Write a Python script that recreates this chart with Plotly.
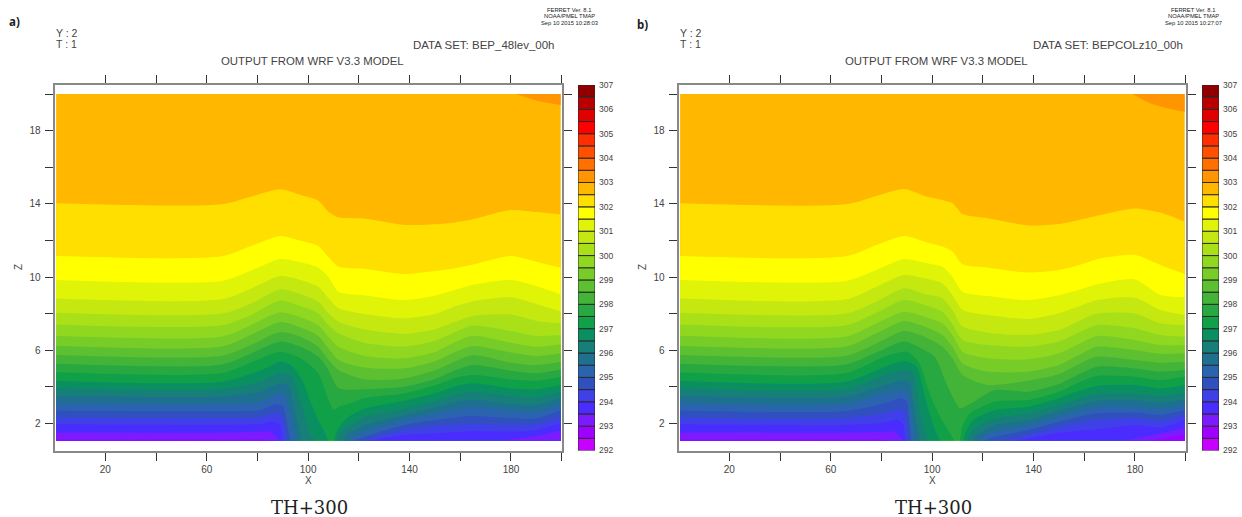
import plotly.graph_objects as go

W, H = 1242, 517
LEVELS = [292.0,292.5,293.0,293.5,294.0,294.5,295.0,295.5,296.0,296.5,297.0,297.5,298.0,298.5,299.0,
          299.5,300.0,300.5,301.0,301.5,302.0,302.5,303.0,303.5,304.0,304.5,305.0,305.5,306.0,306.5]
COLORS = ["#c800ff","#a000ff","#7a1cff","#4a2cff","#4040e8","#3050c0","#2a64ae","#1e7090","#168078","#0a9060",
          "#10a048","#28a840","#44b438","#5cc030","#78cc28","#90d820","#aae018","#c4e810","#e0f408","#ffff00",
          "#ffdf00","#ffb700","#ff9500","#ff7000","#ff5000","#ff3000","#ff0000","#e00000","#b80000","#900000"]
CBAR_LABELS = [292,293,294,295,296,297,298,299,300,301,302,303,304,305,306,307]
X_TICKS = [20,40,60,80,100,120,140,160,180,200]
X_TEXT = ["20","","60","","100","","140","","180",""]
Z_TICKS = [2,4,6,8,10,12,14,16,18,20]
Z_TEXT = ["2","","6","","10","","14","","18",""]
X_EDGES = [0.6,199.6]
Z_EDGES = [1.07,20.0]

X_UP = [0.6,66,78,89,97,104,108,112,122,138,150,158,165,180,190,199.6]

# ---- panel a: BEP_48lev_00h, isotherm heights (z) ----
A_X_303 = [182,190,199.6]
A_Z_303 = [20.0,19.65,19.4]
A_3025 = [14.03,13.97,14.41,14.79,14.48,14.17,13.57,13.26,13.19,12.84,12.88,12.98,13.15,13.66,13.55,13.42]
A_302 = [11.15,11.13,11.72,12.24,11.98,11.69,11.08,10.56,10.45,10.16,10.33,10.48,10.68,11.15,10.84,10.51]
A_3015 = [9.84,9.78,10.38,10.98,10.80,10.51,10.02,9.2,9.0,8.74,8.98,9.3,9.58,9.84,9.51,9.05]
A_301 = [8.83,8.78,9.40,10.05,9.84,9.47,8.84,8.29,7.98,7.74,7.98,8.4,8.68,8.89,8.52,8.11]
A_3005 = [8.05,8.0,8.58,9.33,9.07,8.65,8.01,7.56,7.14,6.89,7.15,7.55,7.87,7.95,7.6,7.47]
A_300 = [7.41,7.36,7.97,8.71,8.41,8.01,7.38,6.92,6.41,6.2,6.52,7.0,7.35,7.05,6.78,6.83]
A_2995 = [6.79,6.75,7.41,8.07,7.80,7.38,6.74,6.19,5.7,5.56,5.9,6.45,6.79,6.41,6.19,6.32]
A_299 = [6.25,6.2,6.87,7.54,7.25,6.78,6.10,5.46,5.05,5.01,5.4,5.9,6.23,5.87,5.68,5.83]
A_2985 = [5.74,5.7,6.32,6.99,6.74,6.19,5.46,4.92,4.41,4.46,4.9,5.4,5.74,5.32,5.19,5.37]
A_298 = [5.26,5.22,5.85,6.47,6.19,5.65,4.92,3.92,3.86,4.0,4.42,4.9,5.19,4.88,4.74,4.95]
A_X_2975 = [0.6,66,78,89,97,104,108,110,112,116,122,138,150,158,165,180,190,199.6]
A_Z_2975 = [4.79,4.75,5.36,5.92,5.56,4.74,3.3,2.75,2.9,3.06,3.37,3.63,4.08,4.48,4.64,4.41,4.33,4.55]

A_XL_297 = [0.6,66,81,89.5,94,98,100.7,103.4,106,108]
A_ZL_297 = [4.32,4.28,4.88,5.37,5.10,4.28,3.28,2.37,1.64,1.07]
A_XR_297 = [110.2,111.5,115,122,138,150,158,165,180,190,199.6]
A_ZR_297 = [1.07,1.64,2.27,2.8,3.24,3.65,4.02,4.19,3.92,3.86,4.1]
A_XL_2965 = [0.6,66,81,89.5,93.5,96.2,98.8,100.7,102.7]
A_ZL_2965 = [3.92,3.88,4.28,4.77,4.55,3.64,2.37,1.46,1.07]
A_XR_2965 = [111.5,113.2,116.5,122,138,150,158,165,180,190,199.6]
A_ZR_2965 = [1.07,1.64,1.91,2.35,2.82,3.22,3.58,3.73,3.5,3.42,3.73]
A_XL_296 = [0.6,66,81,89.5,92.1,94.1,96.2,97.5]
A_ZL_296 = [3.51,3.47,3.73,4.19,4.1,3.1,1.82,1.07]
A_XR_296 = [113.7,115.4,118.4,122,138,150,158,165,180,190,199.6]
A_ZR_296 = [1.07,1.46,1.64,1.9,2.46,2.87,3.15,3.31,3.06,3.0,3.37]
A_XL_2955 = [0.6,66,81,88.9,90.8,92.8,94.1,95.2]
A_ZL_2955 = [3.11,3.07,3.19,3.64,3.55,2.55,1.64,1.07]
A_XR_2955 = [115.8,118.4,124.4,138,150,158,165,180,190,199.6]
A_ZR_2955 = [1.07,1.31,1.64,2.19,2.52,2.75,2.88,2.7,2.64,3.0]
A_XL_295 = [0.6,66,81,87.5,90.1,91.4,92.5,93]
A_ZL_295 = [2.71,2.68,2.73,3.06,2.95,2.19,1.46,1.07]
A_XR_295 = [118.4,124.4,138,150,158,165,180,190,199.6]
A_ZR_295 = [1.07,1.36,1.91,2.18,2.32,2.40,2.28,2.28,2.7]
A_XL_2945 = [0.6,66,81,87.5,89.5,90.8,91.4]
A_ZL_2945 = [2.31,2.29,2.33,2.55,2.4,1.82,1.07]
A_XR_2945 = [121.8,124.4,138,150,158,165,180,190,199.6]
A_ZR_2945 = [1.07,1.18,1.64,1.86,1.92,1.97,1.91,1.97,2.37]
A_XL_294 = [0.6,66,81,86.2,88.9,90]
A_ZL_294 = [1.95,1.93,1.97,2.09,1.91,1.07]
A_XR_294 = [124.4,138,150,158,165,180,190,199.6]
A_ZR_294 = [1.07,1.37,1.46,1.52,1.58,1.55,1.64,2.0]
A_XL_2935 = [0.6,66,81,84.9,87.5,88.2]
A_ZL_2935 = [1.51,1.5,1.55,1.55,1.27,1.07]
A_XR_2935 = [177,190,199.6]
A_ZR_2935 = [1.07,1.31,1.6]
A_XL_293 = [0.6,80,85]
A_ZL_293 = [1.12,1.12,1.07]

# ---- panel b: BEPCOLz10_00h ----
B_X_303 = [179,185,192,199.6]
B_Z_303 = [20.0,19.55,19.25,19.03]
B_3025 = [14.03,13.97,14.43,14.81,14.43,14.21,14.03,13.44,13.21,12.82,12.90,13.12,13.35,13.75,13.52,13.02]
B_302 = [11.15,11.13,11.75,12.24,11.93,11.66,11.39,10.69,10.51,10.24,10.38,10.65,10.97,11.2,10.66,10.16]
B_3015 = [9.84,9.78,10.38,10.98,10.78,10.56,10.02,9.2,8.96,8.74,9.0,9.3,9.6,9.87,9.02,8.89]
B_301 = [8.83,8.78,9.47,10.11,9.93,9.65,9.0,8.2,7.92,7.71,8.02,8.4,8.74,8.87,8.2,7.92]
B_3005 = [8.05,8.0,8.65,9.38,9.07,8.84,8.2,7.29,6.96,6.83,7.1,7.6,8.0,8.01,7.47,7.38]
B_300 = [7.41,7.36,8.05,8.74,8.47,8.1,7.43,6.56,6.28,6.19,6.47,6.98,7.38,7.2,6.83,6.74]
B_2995 = [6.79,6.75,7.47,8.1,7.83,7.47,6.83,5.92,5.56,5.5,5.83,6.35,6.78,6.56,6.28,6.28]
B_299 = [6.25,6.2,6.92,7.6,7.29,6.83,6.19,5.28,4.83,4.83,5.19,5.75,6.19,6.01,5.8,5.83]
B_2985 = [5.74,5.7,6.37,7.05,6.74,6.2,5.56,4.65,4.1,4.34,4.7,5.25,5.65,5.46,5.32,5.37]
B_X_298 = [0.6,66,78,89,97,101,105,108.4,111,114.3,124.8,138,150,158,165,180,190,199.6]
B_Z_298 = [5.26,5.22,5.87,6.47,6.0,5.65,4.37,3.37,2.82,3.0,3.82,3.73,4.15,4.7,5.1,5.0,4.83,4.92]

B_XL_2975 = [0.6,66,81.4,90,94.6,96.5,99.2,103.8,108.8]
B_ZL_2975 = [4.79,4.75,5.65,5.92,5.37,4.74,3.55,2.19,1.07]
B_XR_2975 = [111,111.9,115,124.8,138,150,158,165,180,190,199.6]
B_ZR_2975 = [1.07,1.82,2.55,3.19,3.28,3.73,4.25,4.59,4.55,4.37,4.55]
B_XL_297 = [0.6,66,81.4,89.3,93.9,95.9,97.8,101.1,103.1]
B_ZL_297 = [4.32,4.28,5.1,5.41,5.1,4.19,3.1,1.64,1.07]
B_XR_297 = [112.3,113.6,116.3,124.8,138,150,158,165,180,190,199.6]
B_ZR_297 = [1.07,1.64,2.19,2.73,2.91,3.37,3.78,4.05,4.1,3.92,4.1]
B_XL_2965 = [0.6,66,81.4,89.3,92.6,93.9,95.2,97.2,98.2]
B_ZL_2965 = [3.92,3.88,4.65,4.92,4.74,3.82,2.73,1.46,1.07]
B_XR_2965 = [114,115.6,118.9,124.8,138,150,158,165,180,190,199.6]
B_ZR_2965 = [1.07,1.55,1.91,2.28,2.55,3.0,3.35,3.6,3.64,3.5,3.68]
B_XL_296 = [0.6,66,81.4,89.3,91.3,92.6,93.9,95.2]
B_ZL_296 = [3.51,3.47,4.1,4.37,4.19,3.1,2.0,1.07]
B_XR_296 = [115.9,117.6,120.9,124.8,138,150,158,165,180,190,199.6]
B_ZR_296 = [1.07,1.37,1.64,1.91,2.19,2.68,3.0,3.24,3.28,3.13,3.3]
B_XL_2955 = [0.6,66,81.4,88,90.6,91.7,92.6,93.2]
B_ZL_2955 = [3.11,3.07,3.64,3.82,3.64,2.55,1.64,1.07]
B_XR_2955 = [118.2,120.9,124.8,138,150,158,165,180,190,199.6]
B_ZR_2955 = [1.07,1.37,1.55,1.91,2.37,2.68,2.91,2.91,2.77,3.0]
B_XL_295 = [0.6,66,81.4,88,90,90.9,91.7]
B_ZL_295 = [2.71,2.68,3.1,3.37,3.19,2.19,1.07]
B_XR_295 = [120.9,124.8,138,150,158,165,180,190,199.6]
B_ZR_295 = [1.07,1.27,1.64,2.09,2.35,2.55,2.59,2.46,2.73]
B_XL_2945 = [0.6,66,81.4,87.3,89.3,90,90.6]
B_ZL_2945 = [2.31,2.29,2.55,2.77,2.59,1.82,1.07]
B_XR_2945 = [128,138,150,158,165,180,190,199.6]
B_ZR_2945 = [1.07,1.37,1.79,2.02,2.19,2.28,2.15,2.46]
B_XL_294 = [0.6,66,81.4,86.6,88.6,89.3]
B_ZL_294 = [1.95,1.93,2.04,2.19,1.91,1.07]
B_XR_294 = [133.8,150,158,165,180,190,199.6]
B_ZR_294 = [1.07,1.49,1.6,1.68,1.91,1.78,2.18]
B_XL_2935 = [0.6,66,81.4,84.7,87.3,88]
B_ZL_2935 = [1.51,1.5,1.55,1.55,1.27,1.07]
B_XR_2935 = [176,190,199.6]
B_ZR_2935 = [1.07,1.45,1.73]
B_XL_293 = [0.6,78,84]
B_ZL_293 = [1.12,1.12,1.07]
B_XR_293 = [186.6,199.6]
B_ZR_293 = [1.07,1.4]

A_ISO = [
    (302.5, [(X_UP, A_3025)]), (302.0, [(X_UP, A_302)]), (301.5, [(X_UP, A_3015)]), (301.0, [(X_UP, A_301)]),
    (300.5, [(X_UP, A_3005)]), (300.0, [(X_UP, A_300)]), (299.5, [(X_UP, A_2995)]), (299.0, [(X_UP, A_299)]),
    (298.5, [(X_UP, A_2985)]), (298.0, [(X_UP, A_298)]), (297.5, [(A_X_2975, A_Z_2975)]),
    (297.0, [(A_XL_297, A_ZL_297), (A_XR_297, A_ZR_297)]), (296.5, [(A_XL_2965, A_ZL_2965), (A_XR_2965, A_ZR_2965)]),
    (296.0, [(A_XL_296, A_ZL_296), (A_XR_296, A_ZR_296)]), (295.5, [(A_XL_2955, A_ZL_2955), (A_XR_2955, A_ZR_2955)]),
    (295.0, [(A_XL_295, A_ZL_295), (A_XR_295, A_ZR_295)]), (294.5, [(A_XL_2945, A_ZL_2945), (A_XR_2945, A_ZR_2945)]),
    (294.0, [(A_XL_294, A_ZL_294), (A_XR_294, A_ZR_294)]), (293.5, [(A_XL_2935, A_ZL_2935), (A_XR_2935, A_ZR_2935)]),
    (293.0, [(A_XL_293, A_ZL_293)]),
]
B_ISO = [
    (302.5, [(X_UP, B_3025)]), (302.0, [(X_UP, B_302)]), (301.5, [(X_UP, B_3015)]), (301.0, [(X_UP, B_301)]),
    (300.5, [(X_UP, B_3005)]), (300.0, [(X_UP, B_300)]), (299.5, [(X_UP, B_2995)]), (299.0, [(X_UP, B_299)]),
    (298.5, [(X_UP, B_2985)]), (298.0, [(B_X_298, B_Z_298)]),
    (297.5, [(B_XL_2975, B_ZL_2975), (B_XR_2975, B_ZR_2975)]), (297.0, [(B_XL_297, B_ZL_297), (B_XR_297, B_ZR_297)]),
    (296.5, [(B_XL_2965, B_ZL_2965), (B_XR_2965, B_ZR_2965)]), (296.0, [(B_XL_296, B_ZL_296), (B_XR_296, B_ZR_296)]),
    (295.5, [(B_XL_2955, B_ZL_2955), (B_XR_2955, B_ZR_2955)]), (295.0, [(B_XL_295, B_ZL_295), (B_XR_295, B_ZR_295)]),
    (294.5, [(B_XL_2945, B_ZL_2945), (B_XR_2945, B_ZR_2945)]), (294.0, [(B_XL_294, B_ZL_294), (B_XR_294, B_ZR_294)]),
    (293.5, [(B_XL_2935, B_ZL_2935), (B_XR_2935, B_ZR_2935)]), (293.0, [(B_XL_293, B_ZL_293), (B_XR_293, B_ZR_293)]),
]

fig = go.Figure()
color_of = dict(zip(LEVELS, COLORS))


def poly(xs, zs, color, ax, ay, close_z):
    # straight closing edge first, then the smoothed isotherm filled back to it
    fig.add_trace(go.Scatter(x=[xs[0], xs[-1]], y=[close_z, close_z], mode="lines", line=dict(width=0),
                             hoverinfo="skip", showlegend=False, xaxis=ax, yaxis=ay))
    fig.add_trace(go.Scatter(x=list(xs), y=list(zs), mode="lines", fill="tonexty", fillcolor=color,
                             line=dict(width=0, color=color, shape="spline", smoothing=0.7),
                             hoverinfo="skip", showlegend=False, xaxis=ax, yaxis=ay))


def panel(iso, x303, z303, ax, ay):
    poly(X_EDGES, [Z_EDGES[1], Z_EDGES[1]], color_of[302.5], ax, ay, Z_EDGES[0])
    poly(x303, z303, color_of[303.0], ax, ay, Z_EDGES[1])
    for lev, segs in iso:
        for xs, zs in segs:
            poly(xs, zs, color_of[lev - 0.5], ax, ay, Z_EDGES[0])


panel(A_ISO, A_X_303, A_Z_303, "x", "y")
panel(B_ISO, B_X_303, B_Z_303, "x2", "y2")

for ax, ay in (("x3", "y3"), ("x4", "y4")):
    fig.add_trace(go.Bar(x=[0] * len(LEVELS), y=[0.5] * len(LEVELS), base=LEVELS, width=1,
                         marker=dict(color=COLORS, line=dict(color="#2a2a2a", width=1)),
                         hoverinfo="skip", showlegend=False, xaxis=ax, yaxis=ay))

FONT = "Liberation Sans"
TXT = "#444444"


def xax(l, r):
    return dict(domain=[l / W, r / W], range=[0, 200], tickmode="array", tickvals=X_TICKS, ticktext=X_TEXT,
                ticks="outside", ticklen=8, tickwidth=1, tickcolor="#333333", showline=True, linecolor="#888888",
                linewidth=2, mirror="ticks", showgrid=False, zeroline=False, tickfont=dict(family=FONT, size=10, color=TXT))


def yax(anchor):
    return dict(domain=[1 - 450.85 / H, 1 - 84.85 / H], range=[0.5, 20.5], tickmode="array", tickvals=Z_TICKS,
                ticktext=Z_TEXT, ticks="outside", ticklen=8, tickwidth=1, tickcolor="#333333", showline=True,
                linecolor="#888888", linewidth=2, mirror="ticks", showgrid=False, zeroline=False, anchor=anchor,
                ticklabelstandoff=2, tickfont=dict(family=FONT, size=10, color=TXT))


def cbx(l, r, anchor):
    return dict(domain=[l / W, r / W], range=[-0.5, 0.5], visible=False, anchor=anchor)


def cby(anchor):
    return dict(domain=[1 - 450.5 / H, 1 - 85 / H], range=[292, 307], side="right", anchor=anchor, tickmode="array",
                tickvals=CBAR_LABELS, ticks="", showline=False, showgrid=False, zeroline=False,
                tickfont=dict(family=FONT, size=8.5, color=TXT), ticklabelstandoff=3)


fig.update_layout(
    width=W, height=H, margin=dict(l=0, r=0, t=0, b=0, autoexpand=False), paper_bgcolor="white", plot_bgcolor="white",
    barmode="overlay", showlegend=False,
    xaxis=dict(xax(54.6, 561.7), anchor="y"), yaxis=yax("x"),
    xaxis2=dict(xax(678.6, 1185.7), anchor="y2"), yaxis2=yax("x2"),
    xaxis3=cbx(578, 595, "y3"), yaxis3=cby("x3"),
    xaxis4=cbx(1202, 1219, "y4"), yaxis4=cby("x4"),
)


def note(text, px, py, size=10, family=FONT, color=TXT, anchor="left", angle=0):
    fig.add_annotation(text=text, x=px / W, y=1 - py / H, xref="paper", yref="paper", xanchor=anchor, yanchor="middle",
                       showarrow=False, textangle=angle, font=dict(family=family, size=size, color=color), borderpad=0)


for dx, tag, tag_x, tag_y, ds, stamp, ds_x in (
        (0, "<b>a)</b>", 8, 22, "DATA SET: BEP_48lev_00h", "Sep 10 2015 10:28:03", 412),
        (624, "<b>b)</b>", 636, 25, "DATA SET: BEPCOLz10_00h", "Sep 10 2015 10:27:07", 1032)):
    note(tag, tag_x, tag_y, size=11.5, family="Noto Sans", color="#222222")
    note("Y : 2", 55 + dx, 33, size=10.5)
    note("T : 1", 55 + dx, 44, size=10.5)
    note(ds, ds_x, 45, size=11.5)
    note("OUTPUT FROM WRF V3.3 MODEL", 312.5 + dx, 61, size=11.4, anchor="center")
    note("FERRET Ver. 8.1", 569 + dx, 10.5, size=5.8, anchor="center", color="#222222")
    note("NOAA/PMEL TMAP", 569 + dx, 16.5, size=5.8, anchor="center", color="#222222")
    note(stamp, 569 + dx, 22.5, size=5.8, anchor="center", color="#222222")
    note("X", 308.5 + dx, 480, size=10, anchor="center")
    note("Z", 18 + dx, 267, size=10, anchor="center", angle=-90)
    note("TH+300", 309 + dx, 508, size=18, family="DejaVu Serif", anchor="center", color="#222222")

fig.write_html("out.html", post_script="document.body.style.margin='0';", config=dict(displayModeBar=False))
